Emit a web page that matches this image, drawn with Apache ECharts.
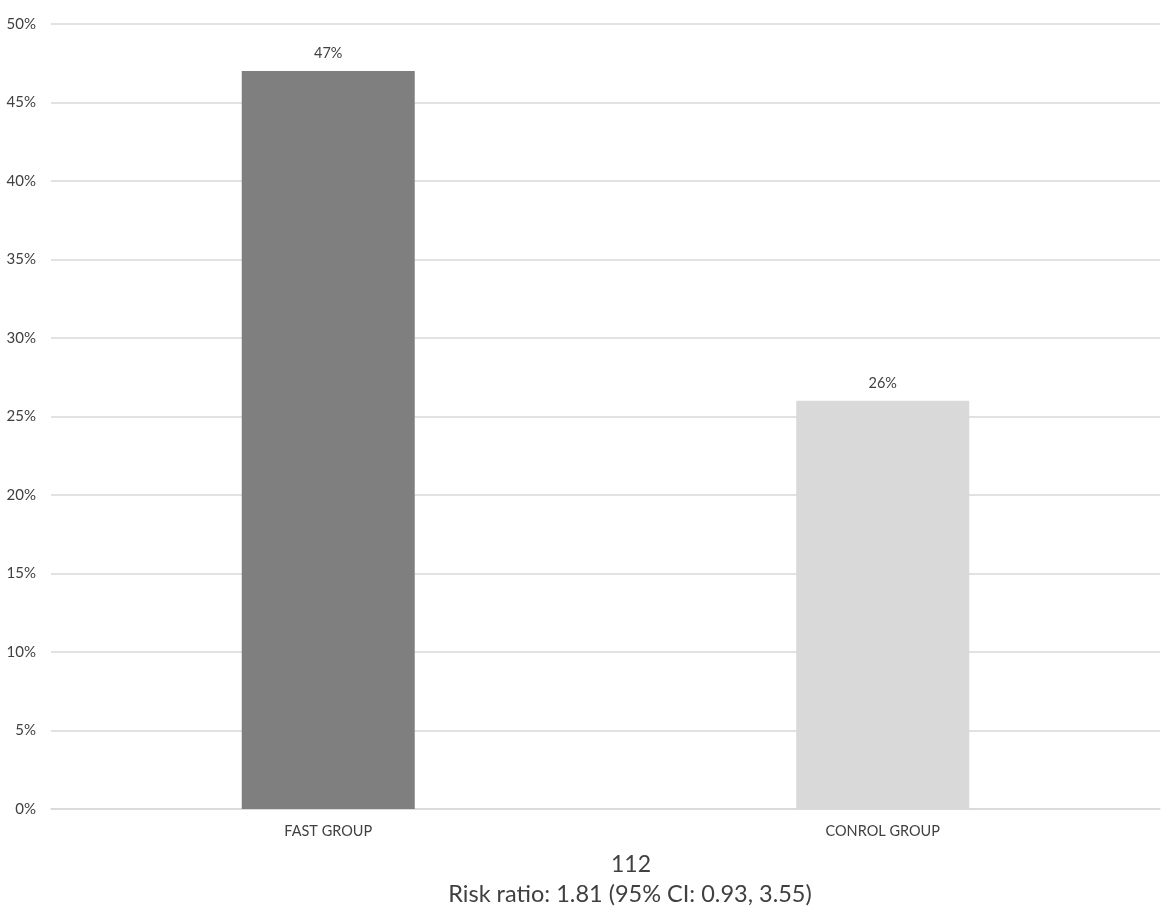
<!DOCTYPE html>
<html><head><meta charset="utf-8">
<script src="https://cdn.jsdelivr.net/npm/echarts@6/dist/echarts.min.js"></script>
<style>html,body{margin:0;padding:0;background:#fff}#c{width:1170px;height:917px}</style>
</head><body><div id="c"></div>
<script>
const categories = ['FAST GROUP', 'CONROL GROUP'];
const values = [47, 26];
const barColors = ['#7f7f7f', '#d9d9d9'];
const yTicks = [0, 5, 10, 15, 20, 25, 30, 35, 40, 45, 50];
const xTitle1 = '112';
const xTitle2 = 'Risk ratio: 1.81 (95% CI: 0.93, 3.55)';

const font = 'Lato, "Open Sans", sans-serif';
const chart = echarts.init(document.getElementById('c'));
chart.setOption({
  animation: false,
  backgroundColor: '#fff',
  grid: { left: 51, right: 10, top: 24, bottom: 108, containLabel: false },
  xAxis: {
    type: 'category', data: categories,
    axisLine: { lineStyle: { color: '#d9d9d9', width: 1.5 } },
    axisTick: { show: false },
    axisLabel: { color: '#404040', fontSize: 14.5, fontFamily: font, margin: 15 }
  },
  yAxis: {
    type: 'value', min: yTicks[0], max: yTicks[yTicks.length - 1], interval: 5,
    axisLine: { show: false }, axisTick: { show: false },
    splitLine: { lineStyle: { color: '#d9d9d9', width: 1.5 } },
    axisLabel: { color: '#404040', fontSize: 15, fontFamily: font, margin: 15, formatter: v => v + '%' }
  },
  title: [
    { text: xTitle1, left: 626, top: 848, textAlign: 'center',
      textStyle: { color: '#404040', fontSize: 23, fontWeight: 'normal', fontFamily: font } },
    { text: xTitle2, left: 625, top: 877, textAlign: 'center',
      textStyle: { color: '#404040', fontSize: 23.5, fontWeight: 'normal', fontFamily: font } }
  ],
  series: [{
    type: 'bar',
    data: values.map((v, i) => ({ value: v, itemStyle: { color: barColors[i] } })),
    barWidth: '31.2%',
    label: { show: true, position: 'top', distance: 10, color: '#404040', fontSize: 14.5, fontFamily: font, formatter: p => p.value + '%' }
  }]
});
</script></body></html>
